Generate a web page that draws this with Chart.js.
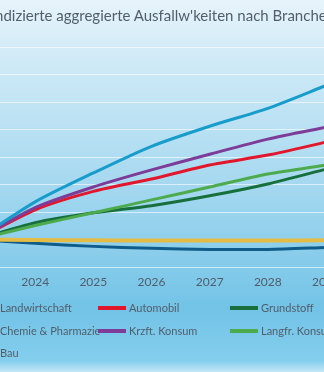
<!DOCTYPE html>
<html>
<head>
<meta charset="utf-8">
<script src="https://cdn.jsdelivr.net/npm/chart.js@4/dist/chart.umd.min.js"></script>
<style>
  html, body { margin: 0; padding: 0; }
  body {
    width: 324px; height: 372px; overflow: hidden; position: relative;
    background: linear-gradient(to bottom, #e7f4fb 0%, #d2ebf7 14%, #b3def2 40%, #8fcfec 65%, #72c3e7 83%, #84ceed 97%, #c4e7f5 100%);
    font-family: Lato, "Open Sans", sans-serif;
  }
  #wrap { position: absolute; left: -73px; top: 0; width: 472px; height: 372px; }
  #title {
    position: absolute; top: 6px; left: -73px; width: 472px; text-align: center;
    font-size: 15px; color: #525e69; white-space: nowrap;
  }
  #legend { position: absolute; left: 0; top: 0; width: 324px; height: 372px; pointer-events: none; }
  .li { position: absolute; height: 14px; font-size: 11px; color: #525e69; white-space: nowrap; line-height: 14px; }
  .li .mk { position: absolute; left: -31px; top: 5px; width: 28px; height: 4px; }
</style>
</head>
<body>
<div id="wrap"><canvas id="c" width="472" height="372"></canvas></div>
<div id="title"></div>
<div id="legend"></div>
<script>
const chartTitle = "Indizierte aggregierte Ausfallw'keiten nach Branchen";
const years = ["2023", "2024", "2025", "2026", "2027", "2028", "2029"];
const seriesNames = ["Landwirtschaft", "Automobil", "Grundstoff", "Chemie & Pharmazie", "Krzft. Konsum", "Langfr. Konsum", "Bau"];
const landwirtschaft = [100, 99.8, 99.7, 99.6, 99.6, 99.6, 99.7];
const automobil      = [100, 110.8, 117.5, 122.0, 127.1, 130.7, 135.4];
const grundstoff     = [100, 106.1, 109.7, 112.3, 115.9, 120.2, 125.6];
const chemie         = [100, 113.7, 124.2, 133.9, 141.2, 147.7, 156.0];
const krzftKonsum    = [100, 111.6, 119.1, 125.3, 131.0, 136.5, 140.8];
const langfrKonsum   = [100, 105.1, 109.7, 114.4, 119.1, 123.8, 127.1];
const bau            = [100, 98.6, 97.5, 96.8, 96.4, 96.4, 97.1];
const seriesValues = [landwirtschaft, automobil, grundstoff, chemie, krzftKonsum, langfrKonsum, bau];
const seriesColors = ["#e4bb45", "#e3172c", "#17703b", "#179ccb", "#7d3c98", "#4dab4d", "#0f5b89"];
const seriesWidths = [4, 3, 3, 3, 3, 3, 3];
const yTicks = { min: 90, max: 170, step: 10 };

document.getElementById('title').textContent = chartTitle;

// legend (3 columns)
const legend = document.getElementById('legend');
const colX = [0, 129, 261];
const rowY = [301, 324, 346];
seriesNames.forEach((name, i) => {
  const d = document.createElement('div');
  d.className = 'li';
  d.style.left = colX[i % 3] + 'px';
  d.style.top = rowY[Math.floor(i / 3)] + 'px';
  const mk = document.createElement('span');
  mk.className = 'mk';
  mk.style.background = seriesColors[i];
  d.appendChild(mk);
  d.appendChild(document.createTextNode(name));
  legend.appendChild(d);
});

// draw order: back to front
const drawOrder = [6, 0, 2, 5, 1, 4, 3];
const datasets = seriesNames.map((name, i) => ({
  label: name,
  data: seriesValues[i],
  borderColor: seriesColors[i],
  backgroundColor: seriesColors[i],
  borderWidth: seriesWidths[i],
  pointRadius: 0,
  tension: 0.25,
  fill: false,
  order: drawOrder.length - drawOrder.indexOf(i)
}));

new Chart(document.getElementById('c'), {
  type: 'line',
  data: { labels: years, datasets },
  options: {
    responsive: false,
    animation: false,
    devicePixelRatio: 1,
    layout: { padding: { left: 10, right: 73, top: 47, bottom: 75 } },
    plugins: { legend: { display: false }, title: { display: false }, tooltip: { enabled: false } },
    scales: {
      x: {
        offset: false,
        grid: { display: false, drawTicks: false },
        border: { display: false },
        ticks: { color: '#525e69', font: { family: 'Lato', size: 12 }, padding: 8, maxRotation: 0 },
        afterFit: s => { s.height = 30; }
      },
      y: {
        min: yTicks.min, max: yTicks.max,
        ticks: { stepSize: yTicks.step, color: '#525e69', font: { family: 'Lato', size: 12 } },
        grid: { color: 'rgba(255,255,255,0.6)', lineWidth: 1, drawTicks: false },
        border: { display: false },
        afterFit: s => { s.width = 40; }
      }
    }
  }
});
</script>
</body>
</html>
